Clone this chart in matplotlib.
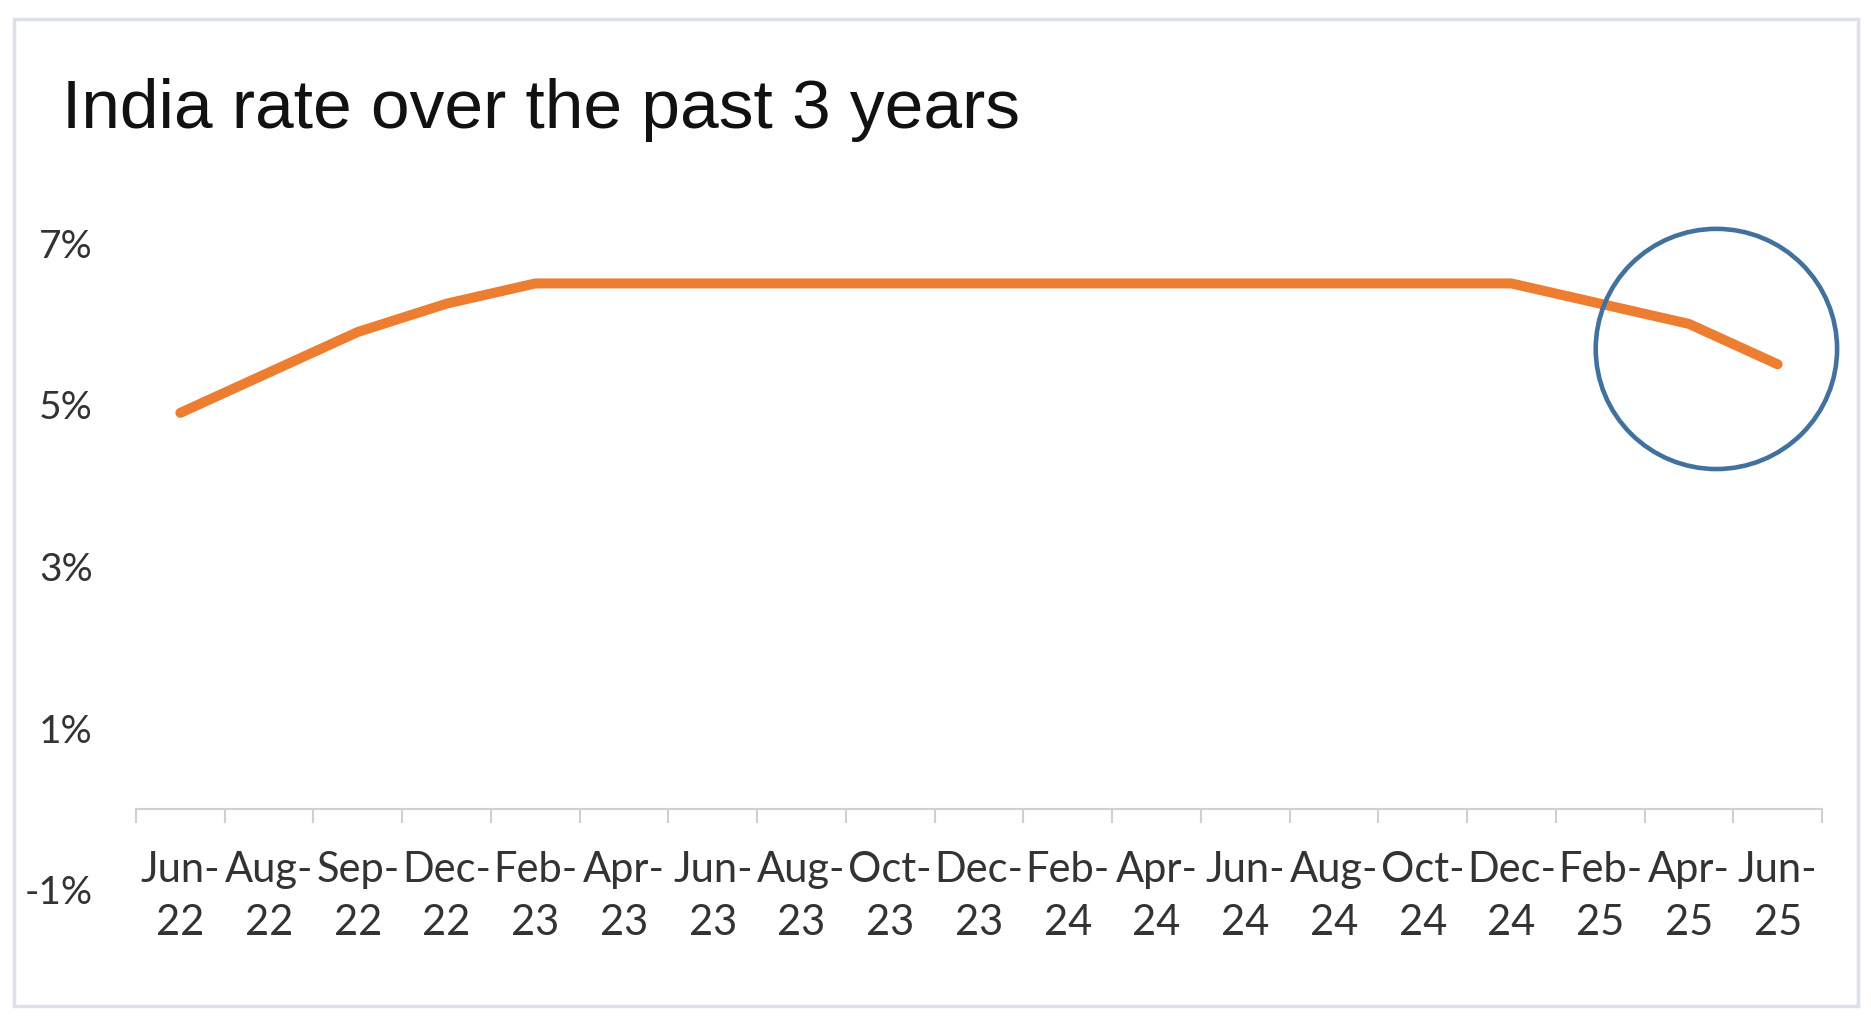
import numpy as np
import matplotlib
matplotlib.use("Agg")
import matplotlib.pyplot as plt
from matplotlib.patches import Ellipse, Rectangle

# data
months = ["Jun-\n22", "Aug-\n22", "Sep-\n22", "Dec-\n22", "Feb-\n23", "Apr-\n23", "Jun-\n23",
          "Aug-\n23", "Oct-\n23", "Dec-\n23", "Feb-\n24", "Apr-\n24", "Jun-\n24", "Aug-\n24",
          "Oct-\n24", "Dec-\n24", "Feb-\n25", "Apr-\n25", "Jun-\n25"]
rate = [4.9, 5.4, 5.9, 6.25, 6.5, 6.5, 6.5, 6.5, 6.5, 6.5, 6.5, 6.5, 6.5, 6.5, 6.5, 6.5, 6.25, 6.0, 5.5]
yticks = [-1, 1, 3, 5, 7]
title = "India rate over the past 3 years"

# highlight circle (data units: category index, percent)
circle_center = (17.31, 5.69)
circle_size = (2.72, 2.97)

W, H = 1871, 1024
fig = plt.figure(figsize=(W / 100, H / 100), dpi=100)
fig.patch.set_facecolor("white")

# light frame around the whole chart (screenshot border)
fig.add_artist(Rectangle((14 / W, 1 - 1006 / H), (1858 - 14) / W, (1006 - 19) / H,
                         transform=fig.transFigure, fill=False, edgecolor="#DCE1E7", linewidth=2.5))

ax = fig.add_axes([136 / W, 1 - 890 / H, 1686 / W, (890 - 243) / H])
x = np.arange(len(months))
ax.plot(x, rate, color="#ED7D31", linewidth=7.2, solid_capstyle="round", solid_joinstyle="round")

ax.add_patch(Ellipse(circle_center, circle_size[0], circle_size[1], fill=False,
                     edgecolor="#41719C", linewidth=3.3, zorder=5, clip_on=False))

ax.set_xlim(-0.5, len(months) - 0.5)
ax.set_ylim(-1, 7)

for s in ["top", "right", "left"]:
    ax.spines[s].set_visible(False)
ax.spines["bottom"].set_position(("data", 0))
ax.spines["bottom"].set_color("#D0D0D0")
ax.spines["bottom"].set_linewidth(1.5)

lab_font = "Lato"
ax.set_xticks(x)
ax.set_xticklabels(months, fontsize=30, color="#333333", family=lab_font, linespacing=1.5)
ax.set_xticks(np.arange(-0.5, len(months), 1.0), minor=True)
ax.tick_params(axis="x", which="major", length=0, pad=30)
ax.tick_params(axis="x", which="minor", length=10, width=1.5, color="#D0D0D0", direction="out")

ax.set_yticks(yticks)
ax.set_yticklabels([f"{v}%" for v in yticks], fontsize=28, color="#333333", family=lab_font)
ax.tick_params(axis="y", length=0, pad=31)

fig.text(62 / W, 1 - 110 / H, title, fontsize=50, family="Liberation Sans",
         color="#111111", va="center", ha="left")

fig.savefig("out.png", dpi=100)
